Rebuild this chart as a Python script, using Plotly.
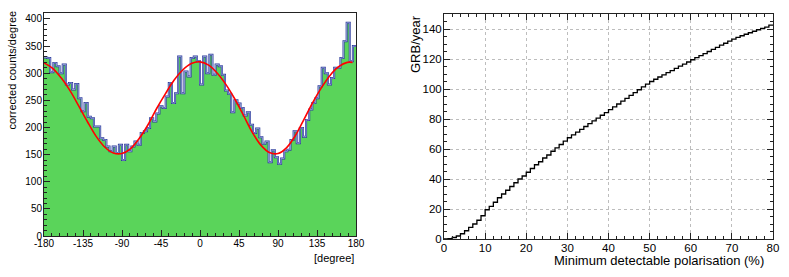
"""Azimuthal modulation histogram and cumulative GRB rate vs MDP."""

import plotly.graph_objects as go

# ---- left panel: corrected counts per degree (100 bins, -180..180) ----
bin_lo = -180.0
bin_w = 3.6
counts = [
    329, 328, 302, 319, 313, 300, 316, 279, 282, 270,
    280, 254, 230, 245, 220, 217, 202, 202, 180, 177,
    165, 156, 165, 153, 168, 140, 168, 156, 165, 174,
    168, 190, 193, 199, 217, 211, 226, 239, 236, 257,
    282, 245, 263, 331, 263, 303, 294, 328, 331, 322,
    279, 331, 300, 334, 297, 316, 313, 297, 268, 262,
    228, 250, 244, 236, 222, 228, 205, 190, 198, 182,
    170, 174, 136, 158, 145, 133, 143, 156, 159, 177,
    193, 171, 199, 183, 214, 233, 245, 254, 276, 310,
    300, 279, 291, 310, 310, 328, 359, 393, 322, 350,
]

# fit curve
fit_phi = [-180, -170, -160, -150, -140, -130, -120, -110, -100, -90,
           -80, -70, -60, -50, -40, -30, -20, -10, 0, 10,
           20, 30, 40, 50, 60, 70, 80, 90, 100, 110,
           120, 130, 140, 150, 160, 170, 176]
fit_val = [319, 309, 291, 268, 240, 211, 184, 164, 153, 152,
           161, 180, 205, 235, 262, 287, 306, 318, 321, 315,
           300, 279, 253, 223, 192, 168, 154, 152, 163, 185,
           215, 246, 273, 296, 312, 320, 320]

deg_ticks = [-180, -135, -90, -45, 0, 45, 90, 135, 180]
deg_labels = ["-180", "-135", "-90", "-45", "0", "45", "90", "135", "180"]

# ---- right panel: GRB/year vs minimum detectable polarisation ----
mdp_edges = list(range(0, 81))
grb_rate = [
    0.0, 0.3, 1.0, 2.0, 3.5, 5.5, 7.8, 10.0, 12.5, 15.5,
    19.5, 21.8, 24.5, 27.5, 30.0, 32.5, 35.0, 37.5, 40.0, 42.0,
    44.5, 47.0, 49.5, 51.5, 54.0, 56.0, 58.5, 60.8, 63.0, 65.2,
    67.5, 69.4, 71.2, 73.1, 75.0, 76.9, 78.7, 80.6, 82.5, 84.3,
    86.2, 88.1, 90.0, 91.9, 93.8, 95.7, 97.6, 99.5, 101.4, 103.3,
    105.0, 106.5, 108.0, 109.4, 110.9, 112.3, 113.7, 115.2, 116.6, 118.0,
    119.5, 120.9, 122.3, 123.6, 125.0, 126.4, 127.8, 129.2, 130.5, 131.9,
    133.3, 134.4, 135.5, 136.5, 137.5, 138.5, 139.5, 140.4, 141.3, 142.6,
]

FONT = "Liberation Sans, Arial, sans-serif"
GREEN = "#5ad45a"

# step coordinates from the bin contents
edges = [bin_lo + bin_w * i for i in range(len(counts) + 1)]
hx = edges
hy = counts + [counts[-1]]
gx = mdp_edges
gy = grb_rate + [grb_rate[-1]]

fig = go.Figure()
fig.add_trace(go.Scatter(x=hx, y=hy, mode="lines", line_shape="hv",
                         line=dict(width=0, color=GREEN), fill="tozeroy",
                         fillcolor=GREEN, xaxis="x", yaxis="y"))
fig.add_trace(go.Scatter(x=hx, y=hy, mode="lines", line_shape="hv",
                         line=dict(width=2.0, color="#2b3a9a"), xaxis="x", yaxis="y"))
fig.add_trace(go.Scatter(x=hx, y=hy, mode="lines", line_shape="hv",
                         line=dict(width=0.8, color="#a3addf"), xaxis="x", yaxis="y"))
fig.add_trace(go.Scatter(x=fit_phi, y=fit_val, mode="lines", line_shape="spline",
                         line=dict(width=1.6, color="#ff0000"), xaxis="x", yaxis="y"))
fig.add_trace(go.Scatter(x=gx, y=gy, mode="lines", line_shape="hv",
                         line=dict(width=1.3, color="black"), xaxis="x2", yaxis="y2"))

axis_common = dict(showline=True, linecolor="#222", linewidth=1, zeroline=False,
                   automargin=False, ticks="inside", tickcolor="#222", ticklen=6,
                   tickfont=dict(family=FONT, size=10, color="black"))

fig.update_layout(
    width=789, height=277,
    margin=dict(l=0, r=0, t=0, b=0),
    paper_bgcolor="white", plot_bgcolor="white",
    showlegend=False,
    font=dict(family=FONT, color="black"),
    xaxis=dict(**axis_common, domain=[44 / 789, 356 / 789], range=[-180, 180],
               anchor="y", mirror=True, showgrid=False,
               tickvals=deg_ticks, ticktext=deg_labels, ticklabelstandoff=-2,
               minor=dict(tick0=-180, dtick=9, ticks="inside", ticklen=3, tickcolor="#222")),
    yaxis=dict(**axis_common, domain=[1 - 236 / 277, 1 - 13 / 277], range=[0, 411],
               anchor="x", mirror=True, showgrid=False, tick0=0, dtick=50,
               ticklabelstandoff=-1,
               minor=dict(tick0=0, dtick=10, ticks="inside", ticklen=3, tickcolor="#222")),
    xaxis2=dict(**axis_common, domain=[444 / 789, 773 / 789], range=[0, 80],
                anchor="y2", mirror="allticks", showgrid=True,
                gridcolor="#bdbdbd", griddash="dot", tick0=0, dtick=10,
                ticklabelstandoff=-2,
                minor=dict(tick0=0, dtick=2, ticks="inside", ticklen=3, tickcolor="#222")),
    yaxis2=dict(**axis_common, domain=[1 - 239 / 277, 1 - 14 / 277], range=[0, 150],
                anchor="x2", mirror="allticks", showgrid=True,
                gridcolor="#bdbdbd", griddash="dot", tick0=0, dtick=20,
                ticklabelstandoff=-1,
                minor=dict(tick0=0, dtick=5, ticks="inside", ticklen=3, tickcolor="#222")),
)
fig.update_layout(xaxis2_tickfont_size=11.5, yaxis2_tickfont_size=11.5)

fig.add_annotation(text="corrected counts/degree", xref="paper", yref="paper",
                   x=11.5 / 789, y=1 - 70 / 277, textangle=-90, showarrow=False,
                   font=dict(size=11, family=FONT), xanchor="center", yanchor="middle")
fig.add_annotation(text="[degree]", xref="paper", yref="paper",
                   x=356 / 789, y=1 - 258 / 277, showarrow=False,
                   font=dict(size=11, family=FONT), xanchor="right", yanchor="middle")
fig.add_annotation(text="GRB/year", xref="paper", yref="paper",
                   x=415 / 789, y=1 - 44 / 277, textangle=-90, showarrow=False,
                   font=dict(size=13, family=FONT), xanchor="center", yanchor="middle")
fig.add_annotation(text="Minimum detectable polarisation (%)", xref="paper", yref="paper",
                   x=766 / 789, y=1 - 260 / 277, showarrow=False,
                   font=dict(size=13, family=FONT), xanchor="right", yanchor="middle")

# drop the default page margin so the figure sits at the window corner
fig.write_html("out.html", config={"displayModeBar": False},
               post_script="document.body.style.margin='0';")
